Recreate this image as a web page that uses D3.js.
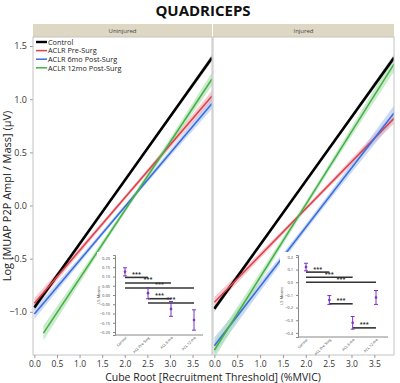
<!DOCTYPE html>
<html>
<head>
<meta charset="utf-8">
<script src="https://cdn.jsdelivr.net/npm/d3@7"></script>
<style>
  body { margin: 0; background: #fff; }
  text { font-family: "Open Sans", "Noto Sans", sans-serif; }
</style>
</head>
<body>
<div id="container"></div>
<script>
let w = 400;
let h = 383;

// ---- data ----
let panels = ["Uninjured", "Injured"];
let groups = ["Control", "ACLR Pre-Surg", "ACLR 6mo Post-Surg", "ACLR 12mo Post-Surg"];
let lineColors = ["#000000", "#e0404c", "#3a6edc", "#45b04a"];
let bandColors = ["#9a9a9a", "#f2a9b0", "#a9c2f2", "#a9dfa6"];

// fitted lines per group: [xStart, yStart, xEnd, yEnd]
let uninjuredLines = [[0, -0.96, 3.93, 1.39], [0, -0.92, 3.93, 1.03], [0, -1.02, 3.93, 0.96], [0.2, -1.2, 3.93, 1.19]];
let injuredLines = [[0, -0.97, 3.93, 1.39], [0, -0.91, 3.93, 0.82], [0, -1.32, 3.93, 0.87], [0, -1.36, 3.93, 1.33]];
// confidence band half widths at start, middle, end
let uninjuredBands = [[0.03, 0.012, 0.03], [0.05, 0.02, 0.05], [0.05, 0.02, 0.05], [0.07, 0.025, 0.06]];
let injuredBands = [[0.03, 0.012, 0.03], [0.05, 0.02, 0.05], [0.08, 0.03, 0.07], [0.08, 0.03, 0.07]];

let xTicks = [0, 0.5, 1, 1.5, 2, 2.5, 3, 3.5];
let yTicks = [-1, -0.5, 0, 0.5, 1, 1.5];

// inset LS means
let insetCats = ["Control", "ACL Pre-Surg", "ACL 6 mo", "ACL 12 mo"];
let uninjuredMeans = [0.125, 0.01, -0.075, -0.135];
let uninjuredErr = [0.022, 0.03, 0.04, 0.055];
let uninjuredSig = [[0, 1, 0.095], [0, 2, 0.065], [0, 3, 0.038], [1, 2, -0.02], [1, 3, -0.043]];
let uninjuredInsetTicks = [-0.2, -0.15, -0.1, -0.05, 0, 0.05, 0.1, 0.15, 0.2];
let injuredMeans = [0.12, -0.14, -0.32, -0.12];
let injuredErr = [0.03, 0.035, 0.05, 0.055];
let injuredSig = [[0, 1, 0.08], [0, 2, 0.04], [0, 3, 0.0], [1, 2, -0.17], [2, 3, -0.36]];
let injuredInsetTicks = [-0.4, -0.3, -0.2, -0.1, 0, 0.1, 0.2];

let viz = d3.select("#container")
  .append("svg")
    .attr("width", w)
    .attr("height", h)
;

// title
viz.append("text")
  .text("QUADRICEPS")
  .attr("x", 203)
  .attr("y", 16)
  .attr("text-anchor", "middle")
  .attr("font-size", 15)
  .attr("font-weight", "bold")
  .attr("fill", "#111");

let plotTop = 37;
let plotBottom = 355;
let panelX = [[33, 212], [213, 394]];

let yScale = d3.scaleLinear().domain([-1.406, 1.585]).range([plotBottom, plotTop]);

// y axis (left panel only)
let yAxisGroup = viz.append("g").attr("class", "yaxis")
  .attr("transform", "translate(" + panelX[0][0] + ",0)");
yAxisGroup.call(d3.axisLeft(yScale).tickValues(yTicks).tickSize(3).tickFormat(d3.format(".1f")));
yAxisGroup.select(".domain").remove();
yAxisGroup.selectAll("line").attr("stroke", "#999");
yAxisGroup.selectAll("text").attr("font-size", 9).attr("fill", "#333").attr("font-family", "Open Sans, sans-serif");

viz.append("text")
  .text("Log [MUAP P2P Ampl / Mass] (µV)")
  .attr("transform", "translate(11,196) rotate(-90)")
  .attr("text-anchor", "middle")
  .attr("font-size", 11)
  .attr("fill", "#222");

viz.append("text")
  .text("Cube Root [Recruitment Threshold] (%MVIC)")
  .attr("x", 213)
  .attr("y", 381)
  .attr("text-anchor", "middle")
  .attr("font-size", 10.5)
  .attr("fill", "#222");

let allLines = [uninjuredLines, injuredLines];
let allBands = [uninjuredBands, injuredBands];

panels.forEach(function(p, pi){
  let x0 = panelX[pi][0];
  let x1 = panelX[pi][1];
  let xScale = d3.scaleLinear().domain([-0.03, 3.93]).range([x0, x1]);

  let g = viz.append("g").attr("class", "panel");

  // header strip
  g.append("rect")
    .attr("x", x0).attr("y", 24)
    .attr("width", x1 - x0).attr("height", plotTop - 24)
    .attr("fill", "#ddd7c4");
  g.append("text")
    .text(p)
    .attr("x", (x0 + x1) / 2)
    .attr("y", 33)
    .attr("text-anchor", "middle")
    .attr("font-size", 6)
    .attr("fill", "#444");

  let clipId = "clip" + pi;
  g.append("clipPath").attr("id", clipId)
    .append("rect")
      .attr("x", x0).attr("y", plotTop)
      .attr("width", x1 - x0).attr("height", plotBottom - plotTop);

  let marks = g.append("g").attr("clip-path", "url(#" + clipId + ")");

  let lines = allLines[pi];
  let bands = allBands[pi];

  // bands first
  lines.forEach(function(l, i){
    let xm = (l[0] + l[2]) / 2;
    let ym = (l[1] + l[3]) / 2;
    let pts = [
      {x: l[0], lo: l[1] - bands[i][0], hi: l[1] + bands[i][0]},
      {x: xm, lo: ym - bands[i][1], hi: ym + bands[i][1]},
      {x: l[2], lo: l[3] - bands[i][2], hi: l[3] + bands[i][2]}
    ];
    let area = d3.area()
      .x(function(d){ return xScale(d.x); })
      .y0(function(d){ return yScale(d.lo); })
      .y1(function(d){ return yScale(d.hi); })
      .curve(d3.curveNatural);
    marks.append("path")
      .datum(pts)
      .attr("d", area)
      .attr("fill", bandColors[i])
      .attr("opacity", 0.6);
  });

  lines.forEach(function(l, i){
    marks.append("line")
      .attr("x1", xScale(l[0])).attr("y1", yScale(l[1]))
      .attr("x2", xScale(l[2])).attr("y2", yScale(l[3]))
      .attr("stroke", lineColors[i])
      .attr("stroke-width", i == 0 ? 2.6 : 1.6);
  });

  // frame
  g.append("rect")
    .attr("x", x0).attr("y", plotTop)
    .attr("width", x1 - x0).attr("height", plotBottom - plotTop)
    .attr("fill", "none")
    .attr("stroke", "#c4c4c4")
    .attr("stroke-width", 1);

  // x axis
  let xAxisGroup = g.append("g").attr("class", "xaxis")
    .attr("transform", "translate(0," + plotBottom + ")");
  xAxisGroup.call(d3.axisBottom(xScale).tickValues(xTicks).tickSize(3).tickFormat(d3.format(".1f")));
  xAxisGroup.select(".domain").remove();
  xAxisGroup.selectAll("line").attr("stroke", "#999");
  xAxisGroup.selectAll("text").attr("font-size", 8.5).attr("fill", "#333").attr("font-family", "Open Sans, sans-serif");
});

// legend
let legend = viz.append("g").attr("class", "legend");
groups.forEach(function(gname, i){
  let ly = 42 + i * 8.6;
  legend.append("line")
    .attr("x1", 36).attr("x2", 47)
    .attr("y1", ly).attr("y2", ly)
    .attr("stroke", lineColors[i])
    .attr("stroke-width", i == 0 ? 2.4 : 1.5);
  legend.append("text")
    .text(gname)
    .attr("x", 48)
    .attr("y", ly + 2.7)
    .attr("font-size", 7.3)
    .attr("font-family", "Roboto, sans-serif")
    .attr("fill", "#222");
});

// insets
function drawInset(box, yDomain, ticks, fmt, means, errs, sigs){
  let g = viz.append("g").attr("class", "inset");
  let ys = d3.scaleLinear().domain(yDomain).range([box.bottom, box.top]);
  let xs = d3.scalePoint().domain(insetCats).range([box.c0, box.c1]);

  g.append("rect")
    .attr("x", box.left - 18).attr("y", box.top - 3)
    .attr("width", box.right - box.left + 20).attr("height", box.bottom - box.top + 18)
    .attr("fill", "#fff");

  let ya = g.append("g").attr("transform", "translate(" + box.left + ",0)")
    .call(d3.axisLeft(ys).tickValues(ticks).tickSize(2).tickFormat(d3.format(fmt)));
  ya.select(".domain").attr("stroke", "#888");
  ya.selectAll("line").attr("stroke", "#888");
  ya.selectAll("text").attr("font-size", 4).attr("fill", "#444").attr("font-family", "Open Sans, sans-serif");

  g.append("line")
    .attr("x1", box.left).attr("x2", box.right)
    .attr("y1", box.bottom).attr("y2", box.bottom)
    .attr("stroke", "#888");

  g.append("text")
    .text("LS Means")
    .attr("transform", "translate(" + (box.left - 15) + "," + ((box.top + box.bottom) / 2) + ") rotate(-90)")
    .attr("text-anchor", "middle")
    .attr("font-size", 4)
    .attr("fill", "#444");

  insetCats.forEach(function(c){
    g.append("text")
      .text(c)
      .attr("transform", "translate(" + (xs(c) + 2) + "," + (box.bottom + 3) + ") rotate(-45)")
      .attr("text-anchor", "end")
      .attr("font-size", 3.6)
      .attr("fill", "#444");
  });

  // significance bars
  sigs.forEach(function(s){
    let xa = xs(insetCats[s[0]]);
    let xb = xs(insetCats[s[1]]);
    g.append("line")
      .attr("x1", xa).attr("x2", xb)
      .attr("y1", ys(s[2])).attr("y2", ys(s[2]))
      .attr("stroke", "#333")
      .attr("stroke-width", 1.6);
    g.append("text")
      .text("***")
      .attr("x", (xa + xb) / 2)
      .attr("y", ys(s[2]) - 1.5)
      .attr("text-anchor", "middle")
      .attr("font-size", 5.5)
      .attr("font-weight", "bold")
      .attr("fill", "#333");
  });

  // means with error bars
  means.forEach(function(m, i){
    let cx = xs(insetCats[i]);
    let e = errs[i];
    let pc = "#7a34c0";
    g.append("line")
      .attr("x1", cx).attr("x2", cx)
      .attr("y1", ys(m - e)).attr("y2", ys(m + e))
      .attr("stroke", pc).attr("stroke-width", 1);
    [m - e, m + e].forEach(function(v){
      g.append("line")
        .attr("x1", cx - 2).attr("x2", cx + 2)
        .attr("y1", ys(v)).attr("y2", ys(v))
        .attr("stroke", pc).attr("stroke-width", 1);
    });
    g.append("circle")
      .attr("cx", cx).attr("cy", ys(m))
      .attr("r", 1.3)
      .attr("fill", pc);
  });
}

drawInset({left: 115, right: 203, top: 255, bottom: 335, c0: 125, c1: 194},
  [-0.216, 0.216], uninjuredInsetTicks, ".2f", uninjuredMeans, uninjuredErr, uninjuredSig);
drawInset({left: 298, right: 388, top: 255, bottom: 337, c0: 306, c1: 376},
  [-0.432, 0.215], injuredInsetTicks, ".1f", injuredMeans, injuredErr, injuredSig);
</script>
</body>
</html>
